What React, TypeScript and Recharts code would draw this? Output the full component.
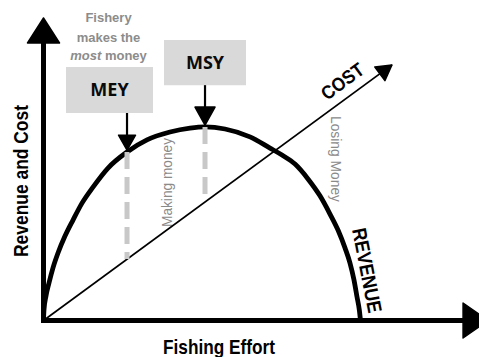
import React from 'react';
import { ComposedChart, Line, XAxis, YAxis, ReferenceLine, ReferenceArea } from 'recharts';

// Revenue curve (effort vs revenue, 0-100 scale)
const revenueEffort = [0, 0.11, 0.57, 1.26, 2.18, 3.33, 4.94, 6.78, 8.85, 11.38, 14.83, 19.2, 23.79, 29.08, 33.68, 37.13, 41.72, 47.47, 52.07, 54.83, 57.82, 60.8, 63.56, 65.86, 67.7, 69.31, 70.46, 71.38, 72.07, 72.6, 72.87];
const revenueValues = [0, 3.5, 8.1, 12.4, 17.4, 22.3, 27.9, 33.2, 38.8, 44.1, 50.4, 55.7, 59.7, 62.3, 63.6, 64.0, 63.3, 60.7, 57.0, 54.7, 51.7, 46.8, 41.2, 35.2, 29.9, 24.0, 19.0, 13.4, 7.8, 3.5, 0];

// Cost line
const costEffort = [0, 80.1];
const costValues = [0, 84.5];

// Marked effort levels
const markLabels = ['MEY', 'MSY'];
const markEffort = [19.2, 37.13];
const markRevenue = [55.7, 64.0];
const markCost = [20.3, 39.2];

// Axis extents
const axisEffortEnd = 102.2;
const axisValueEnd = 100;

const revenueData = revenueEffort.map((e, i) => ({ effort: e, revenue: revenueValues[i] }));
const costData = costEffort.map((e, i) => ({ effort: e, cost: costValues[i] }));

// annotation layout (box extents in chart units)
const boxes = [
  { x1: 5.17, x2: 25.17, y1: 68.6, y2: 83.8, arrowTop: 68.6 },
  { x1: 27.7, x2: 46.55, y1: 77.8, y2: 92.7, arrowTop: 77.8 },
];

const SANS = '"Liberation Sans", Arial, sans-serif';

function arrowShape(color: string, lineWidth: number, headLen: number, headWidth: number, cap = 'butt') {
  return (p: any) => {
    const { x1, y1, x2, y2 } = p;
    const ang = Math.atan2(y2 - y1, x2 - x1);
    const bx = x2 - headLen * Math.cos(ang);
    const by = y2 - headLen * Math.sin(ang);
    const px = (-Math.sin(ang) * headWidth) / 2;
    const py = (Math.cos(ang) * headWidth) / 2;
    return (
      <g>
        <line x1={x1} y1={y1} x2={bx} y2={by} stroke={color} strokeWidth={lineWidth} strokeLinecap={cap as any} />
        <polygon
          points={`${x2},${y2} ${bx + px},${by + py} ${bx - px},${by - py}`}
          fill={color}
          stroke={color}
          strokeLinejoin="round"
          strokeWidth={1.5}
        />
      </g>
    );
  };
}

const costArrowDot = (props: any) => {
  const { cx, cy, index } = props;
  if (index !== costEffort.length - 1) return <g key={`d${index}`} />;
  const ang = (-36.4 * Math.PI) / 180;
  const headLen = 15;
  const headWidth = 17;
  const bx = cx - headLen * Math.cos(ang);
  const by = cy - headLen * Math.sin(ang);
  const px = (-Math.sin(ang) * headWidth) / 2;
  const py = (Math.cos(ang) * headWidth) / 2;
  return (
    <polygon
      key={`d${index}`}
      points={`${cx},${cy} ${bx + px},${by + py} ${bx - px},${by - py}`}
      fill="#000"
      stroke="#000"
      strokeLinejoin="round"
      strokeWidth={1.5}
    />
  );
};

export default function App() {
  return (
    <div style={{ position: 'absolute', left: 0, top: 0, width: 479, height: 357, background: '#fff' }}>
      <ComposedChart
        width={479}
        height={357}
        margin={{ top: 18, right: 0.5, bottom: 36.5, left: 43.5 }}
      >
        <XAxis type="number" dataKey="effort" domain={[0, 100]} hide allowDataOverflow />
        <YAxis type="number" domain={[0, 100]} hide allowDataOverflow />

        {boxes.map((b, i) => (
          <ReferenceArea
            key={`box${i}`}
            x1={b.x1}
            x2={b.x2}
            y1={b.y1}
            y2={b.y2}
            fill="#d9d9d9"
            fillOpacity={1}
            stroke="none"
            ifOverflow="visible"
            label={{
              value: markLabels[i],
              position: 'center',
              fill: '#0a0a0a',
              fontSize: 18,
              fontWeight: 'bold',
              fontFamily: '"Open Sans", sans-serif',
            }}
          />
        ))}

        <Line
          data={costData}
          dataKey="cost"
          type="linear"
          stroke="#000"
          strokeWidth={1.8}
          dot={costArrowDot}
          activeDot={false}
          isAnimationActive={false}
        />
        <Line
          data={revenueData}
          dataKey="revenue"
          type="monotone"
          stroke="#000"
          strokeWidth={4.8}
          dot={false}
          activeDot={false}
          isAnimationActive={false}
        />

        {markEffort.map((e, i) => (
          <ReferenceLine
            key={`dash${i}`}
            segment={[
              { x: e, y: markRevenue[i] },
              { x: e, y: markCost[i] },
            ]}
            stroke="#c8c8c8"
            strokeWidth={5}
            strokeDasharray="17 8"
            ifOverflow="visible"
          />
        ))}

        {markEffort.map((e, i) => (
          <ReferenceLine
            key={`arr${i}`}
            segment={[
              { x: e, y: boxes[i].arrowTop },
              { x: e, y: markRevenue[i] + 0.6 },
            ]}
            ifOverflow="visible"
            shape={arrowShape('#000', 2.2, i === 0 ? 15 : 18, i === 0 ? 17 : 20)}
          />
        ))}

        <ReferenceLine
          segment={[
            { x: 0, y: 0 },
            { x: 0, y: axisValueEnd },
          ]}
          ifOverflow="visible"
          shape={arrowShape('#000', 5, 25, 32, 'square')}
        />
        <ReferenceLine
          segment={[
            { x: 0, y: 0 },
            { x: axisEffortEnd, y: 0 },
          ]}
          ifOverflow="visible"
          shape={arrowShape('#000', 5, 25, 35, 'square')}
        />

        <g>
          <text x={163} y={354} fontFamily={SANS} fontWeight="bold" fontSize={21} fill="#000" textLength={112} lengthAdjust="spacingAndGlyphs">
            Fishing Effort
          </text>
          <text x={28} y={257} transform="rotate(-90 28 257)" fontFamily={SANS} fontWeight="bold" fontSize={21} fill="#000" textLength={152} lengthAdjust="spacingAndGlyphs">
            Revenue and Cost
          </text>
          <text x={352} y={229.5} transform="rotate(79 352 229.5)" fontFamily={SANS} fontWeight="bold" fontSize={20} fill="#000" textLength={86} lengthAdjust="spacingAndGlyphs">
            REVENUE
          </text>
          <text x={327} y={101} transform="rotate(-36.4 327 101)" fontFamily={SANS} fontWeight="bold" fontSize={19} fill="#000" textLength={48} lengthAdjust="spacingAndGlyphs">
            COST
          </text>
          <text x={172} y={227} transform="rotate(-90 172 227)" fontFamily={SANS} fontSize={14} fill="#8a8a8a" textLength={89} lengthAdjust="spacingAndGlyphs">
            Making money
          </text>
          <text x={331} y={116} transform="rotate(90 331 116)" fontFamily={SANS} fontSize={14} fill="#8a8a8a" textLength={86} lengthAdjust="spacingAndGlyphs">
            Losing Money
          </text>
          <text x={108.5} y={22} textAnchor="middle" fontFamily={SANS} fontWeight="bold" fontSize={13} fill="#8c8c8c">
            Fishery
          </text>
          <text x={108.5} y={41.5} textAnchor="middle" fontFamily={SANS} fontWeight="bold" fontSize={13} fill="#8c8c8c">
            makes the
          </text>
          <text x={108.5} y={60} textAnchor="middle" fontFamily={SANS} fontWeight="bold" fontSize={13} fill="#8c8c8c">
            <tspan fontStyle="italic">most</tspan> money
          </text>
        </g>
      </ComposedChart>
    </div>
  );
}
